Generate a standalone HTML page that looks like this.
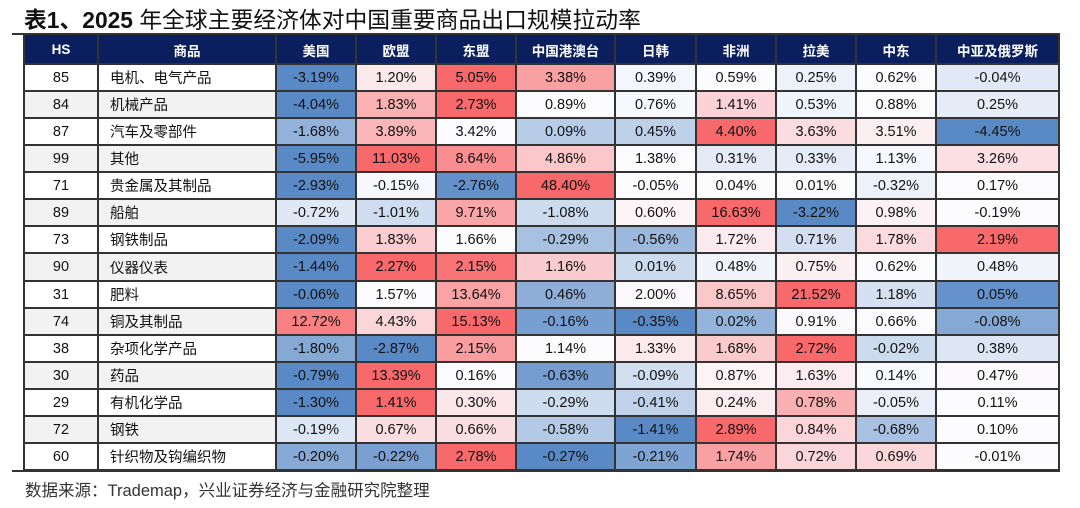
<!DOCTYPE html>
<html><head><meta charset="utf-8">
<style>
body{margin:0;width:1080px;height:508px;background:#fff;position:relative;overflow:hidden;font-family:"Liberation Sans","Noto Sans CJK SC",sans-serif;}
.title{position:absolute;left:24px;top:2px;font-size:22.8px;color:#111;white-space:nowrap;}
.rule{position:absolute;left:12px;width:1048px;height:2px;background:#333;}
.src{position:absolute;left:25px;top:477px;font-size:16.5px;color:#333;white-space:nowrap;}
.c{position:absolute;display:flex;align-items:center;justify-content:center;font-size:14.5px;color:#111;white-space:nowrap;}
.h{color:#fff;font-weight:bold;font-size:13.5px;background:#0b1f5e;}
.n{justify-content:flex-start;padding-left:12px;box-sizing:border-box;}
.vl{position:absolute;width:2px;background:#333;}
.hl{position:absolute;height:2px;background:#333;}
</style></head><body>
<div class="title"><b>表1、2025</b> 年全球主要经济体对中国重要商品出口规模拉动率</div>
<div class="rule" style="top:33px"></div>
<div id="t"></div>
<div class="rule" style="top:470px"></div>
<div class="src">数据来源：Trademap，兴业证券经济与金融研究院整理</div>
<script>
var xs=[24,98,276,356,436,516,615,696,776,856,936,1059];
var heads=["HS","商品","美国","欧盟","东盟","中国港澳台","日韩","非洲","拉美","中东","中亚及俄罗斯"];
var rows=[
["85","电机、电气产品",-3.19,1.20,5.05,3.38,0.39,0.59,0.25,0.62,-0.04],
["84","机械产品",-4.04,1.83,2.73,0.89,0.76,1.41,0.53,0.88,0.25],
["87","汽车及零部件",-1.68,3.89,3.42,0.09,0.45,4.40,3.63,3.51,-4.45],
["99","其他",-5.95,11.03,8.64,4.86,1.38,0.31,0.33,1.13,3.26],
["71","贵金属及其制品",-2.93,-0.15,-2.76,48.40,-0.05,0.04,0.01,-0.32,0.17],
["89","船舶",-0.72,-1.01,9.71,-1.08,0.60,16.63,-3.22,0.98,-0.19],
["73","钢铁制品",-2.09,1.83,1.66,-0.29,-0.56,1.72,0.71,1.78,2.19],
["90","仪器仪表",-1.44,2.27,2.15,1.16,0.01,0.48,0.75,0.62,0.48],
["31","肥料",-0.06,1.57,13.64,0.46,2.00,8.65,21.52,1.18,0.05],
["74","铜及其制品",12.72,4.43,15.13,-0.16,-0.35,0.02,0.91,0.66,-0.08],
["38","杂项化学产品",-1.80,-2.87,2.15,1.14,1.33,1.68,2.72,-0.02,0.38],
["30","药品",-0.79,13.39,0.16,-0.63,-0.09,0.87,1.63,0.14,0.47],
["29","有机化学品",-1.30,1.41,0.30,-0.29,-0.41,0.24,0.78,-0.05,0.11],
["72","钢铁",-0.19,0.67,0.66,-0.58,-1.41,2.89,0.84,-0.68,0.10],
["60","针织物及钩编织物",-0.20,-0.22,2.78,-0.27,-0.21,1.74,0.72,0.69,-0.01]];
var lo=[90,138,198],mid=[252,252,255],hi=[248,105,107];
function mix(a,b,t){return "rgb("+a.map(function(v,i){return Math.round(v+(b[i]-v)*t)}).join(",")+")";}
var top0=35,h="";
function ry(i){return Math.round(64+i*(470-64)/15);}
function cell(x0,x1,y0,y1,bg,txt,cls){return '<div class="c '+(cls||'')+'" style="left:'+x0+'px;width:'+(x1-x0)+'px;top:'+y0+'px;height:'+(y1-y0)+'px;background:'+bg+'">'+txt+'</div>';}
heads.forEach(function(x,i){h+=cell(xs[i],xs[i+1],top0,64,"#0b1f5e",x,"h");});
rows.forEach(function(r,ri){
  var y0=ry(ri),y1=ry(ri+1);
  var v=r.slice(2),s=v.slice().sort(function(a,b){return a-b}),mn=s[0],mx=s[s.length-1],md=s[Math.floor(s.length/2)];
  var bg=ri%2?"#f2f2f2":"#fff";
  h+=cell(xs[0],xs[1],y0,y1,bg,r[0]);
  h+=cell(xs[1],xs[2],y0,y1,bg,r[1],"n");
  v.forEach(function(x,k){
    var c=x<=md?mix(lo,mid,(md-mn)?(x-mn)/(md-mn):1):mix(mid,hi,(mx-md)?(x-md)/(mx-md):0);
    h+=cell(xs[k+2],xs[k+3],y0,y1,c,x.toFixed(2)+'%');
  });
});
xs.forEach(function(x){h+='<div class="vl" style="left:'+(x-1)+'px;top:'+top0+'px;height:'+(471-top0)+'px"></div>';});
for(var i=0;i<=15;i++){h+='<div class="hl" style="left:23px;width:1037px;top:'+(ry(i)-1)+'px"></div>';}
document.getElementById("t").innerHTML=h;
</script>
</body></html>
